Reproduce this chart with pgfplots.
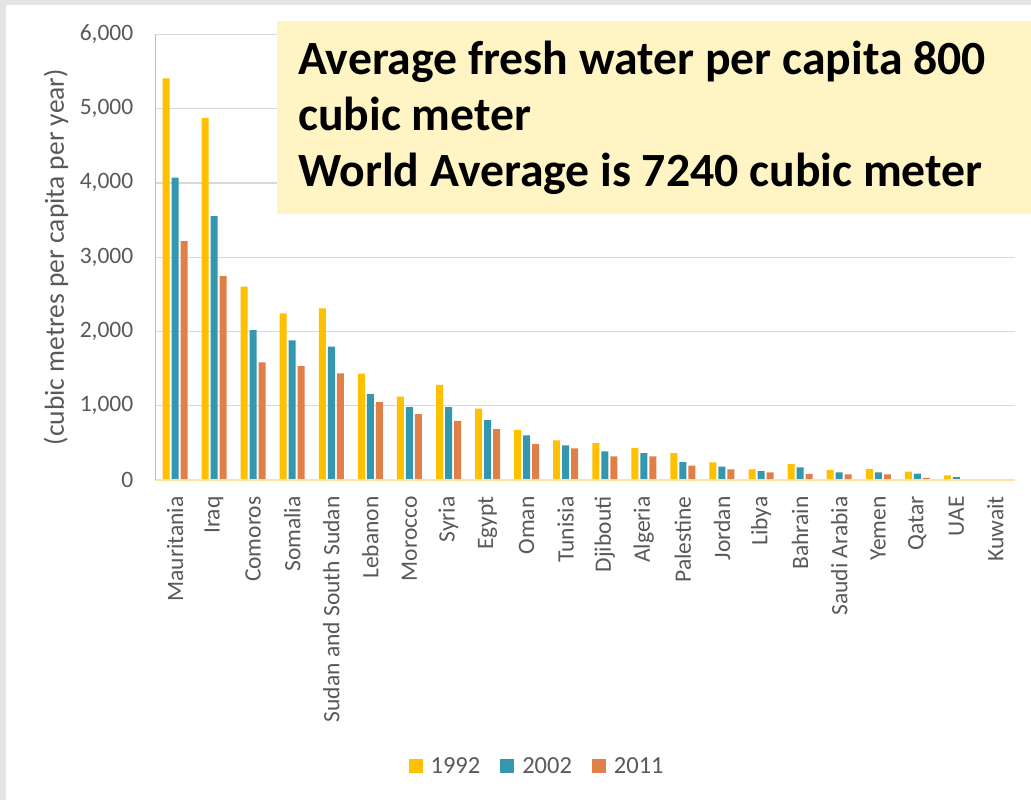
\documentclass[border=0pt]{standalone}
\usepackage{pgfplots}
\pgfplotsset{compat=1.18}
\usepackage{fontspec}
\setmainfont{Carlito}

\definecolor{cA}{HTML}{FFC000}
\definecolor{cB}{HTML}{3497B0}
\definecolor{cC}{HTML}{E07F47}
\definecolor{boxfill}{HTML}{FFF5C4}
\definecolor{ticktext}{HTML}{595959}
\definecolor{gridc}{HTML}{D9D9D9}
\definecolor{basecol}{HTML}{FBE3A0}
\definecolor{framecol}{HTML}{E4E4E4}

% Renewable fresh water per capita (cubic metres per year)
\pgfplotstableread{
idx y1992 y2002 y2011
0  5406 4069 3217
1  4876 3553 2746
2  2602 2019 1584
3  2243 1880 1534
4  2311 1794 1436
5  1431 1157 1050
6  1122  980  888
7  1280  980  797
8   962  807  686
9   676  602  484
10  534  467  427
11  498  386  319
12  431  363  319
13  363  242  193
14  238  179  144
15  144  121  103
16  215  171   81
17  135  103   76
18  148  103   76
19  112   85   27
20   63   40    5
21    4    3    2
}\water

\begin{document}
\begin{tikzpicture}
% page: 1031 x 800, the axis box's lower left corner sits at the origin
\fill[white] (-155.5pt,-320pt) rectangle (875.5pt,480pt);
\fill[framecol] (-155.5pt,-320pt) rectangle (-149.5pt,480pt);
\fill[framecol] (-155.5pt,475pt) rectangle (875.5pt,480pt);
\begin{axis}[
  at={(0pt,0pt)}, anchor=south west,
  scale only axis, width=859.5pt, height=445.7pt,
  xmin=-0.5, xmax=21.5, ymin=0, ymax=6000,
  ybar=2pt, bar width=7pt,
  axis lines*=left,
  axis line style={draw=none},
  xtick=data,
  xticklabels={Mauritania,Iraq,Comoros,Somalia,Sudan and South Sudan,Lebanon,Morocco,Syria,Egypt,Oman,Tunisia,Djibouti,Algeria,Palestine,Jordan,Libya,Bahrain,Saudi Arabia,Yemen,Qatar,UAE,Kuwait},
  xtick style={draw=none}, ytick style={draw=none},
  ytick={0,1000,...,6000},
  ymajorgrids, grid style={gridc, line width=1.3pt},
  /pgf/number format/assume math mode=true,
  /pgf/number format/1000 sep={,},
  scaled y ticks=false,
  ticklabel style={font=\fontsize{23.5}{26}\selectfont, text=ticktext},
  yticklabel style={anchor=east, inner sep=0pt, xshift=-22pt},
  xticklabel style={rotate=90, anchor=east, inner sep=0pt, xshift=-12pt},
  ylabel={(cubic metres per capita per year)},
  ylabel style={at={(axis description cs:-0.1157,0.5)}, anchor=center,
    font=\fontsize{27.5}{30}\selectfont, text=ticktext},
  legend columns=-1,
  legend style={at={(0.444,-0.642)}, anchor=center, draw=none, fill=none,
    font=\fontsize{24.5}{27}\selectfont, text=ticktext,
    /tikz/every odd column/.append style={column sep=6pt},
    /tikz/every even column/.append style={column sep=18pt},
    inner sep=0pt},
  legend image code/.code={\fill[#1] (0pt,-7pt) rectangle (14pt,7pt);},
  clip=false,
]
\addplot[fill=cA, draw=none] table[x=idx, y=y1992] {\water};
\addplot[fill=cB, draw=none] table[x=idx, y=y2002] {\water};
\addplot[fill=cC, draw=none] table[x=idx, y=y2011] {\water};
\legend{1992,2002,2011}
\draw[basecol, line width=1.6pt] (rel axis cs:0,0) -- (rel axis cs:1,0);
\draw[cA, line width=1.2pt] (rel axis cs:0,0) -- (rel axis cs:0,1);
\end{axis}
% headline note
\fill[boxfill] (121.5pt,266pt) rectangle (875.5pt,459pt);
\begin{scope}[every node/.style={anchor=base west, inner sep=0pt,
    font=\fontsize{47.7}{56}\selectfont\bfseries}]
\node at (142.5pt,405pt) {Average fresh water per capita 800};
\node at (142.5pt,349.3pt) {cubic meter};
\node at (142.5pt,293.3pt) {World Average is 7240 cubic meter};
\end{scope}
\path[use as bounding box] (-155.5pt,-320pt) rectangle (875.5pt,480pt);
\end{tikzpicture}
\end{document}
